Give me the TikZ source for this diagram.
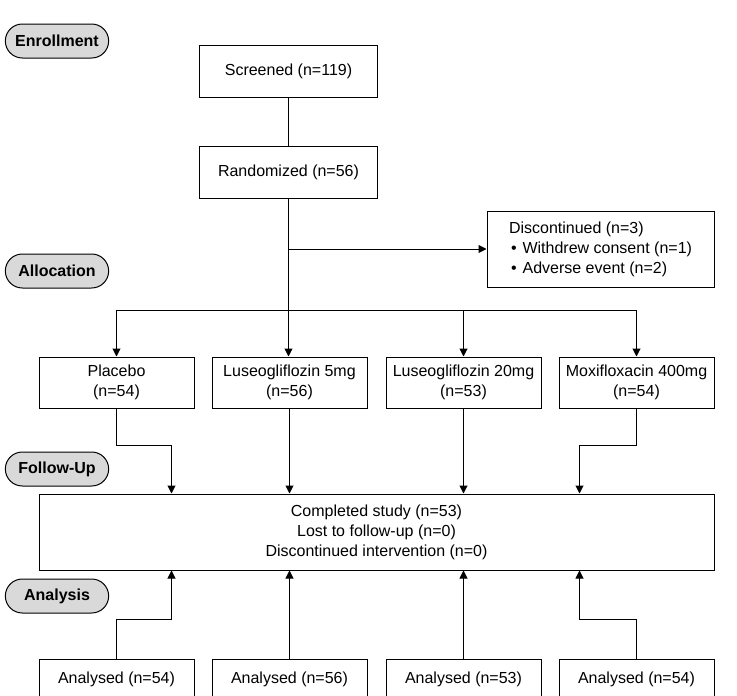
\documentclass[tikz,border=0pt]{standalone}
\usepackage{fontspec}
\setmainfont{Liberation Sans}
\usetikzlibrary{arrows.meta,shapes.misc}
\begin{document}
\begin{tikzpicture}[
    x=1pt, y=-1pt,
    font=\fontsize{16}{20}\selectfont,
    stage/.style={rounded rectangle, draw, line width=1pt, fill=gray!30, minimum width=110, minimum height=34, font=\fontsize{16}{20}\selectfont\bfseries},
    box/.style={rectangle, draw, line width=1pt, minimum width=178, minimum height=52, text centered},
    arm/.style={rectangle, draw, line width=1pt, minimum width=155, minimum height=51, align=center},
    result/.style={rectangle, draw, line width=1pt, minimum width=155, minimum height=40},
    flow/.style={line width=1pt, -{Triangle[length=8pt, width=8pt]}}
]
\useasboundingbox (0,0) rectangle (737,696);

% Stages
\node[stage] (enroll) at (57,41) {Enrollment};
\node[stage] (alloc) at (57,271) {Allocation};
\node[stage] (follow) at (57,469) {Follow-Up};
\node[stage] (analysis) at (57,596) {Analysis};

% Enrollment
\node[box] (screened) at (288.5,71) {Screened (n=119)};
\node[box] (random) at (288.5,172) {Randomized (n=56)};
\node[rectangle, draw, line width=1pt, minimum width=227, minimum height=76, align=left] (discont) at (600.5,249)
  {Discontinued (n=3)\\\hspace{2pt}\textbullet\hspace{6pt}Withdrew consent (n=1)\\\hspace{2pt}\textbullet\hspace{6pt}Adverse event (n=2)};
\coordinate (split) at (288.5,310);

% Allocation
\node[arm] (placebo) at (116.5,382.5) {Placebo\\(n=54)};
\node[arm] (luso5) at (289.5,382.5) {Luseogliflozin 5mg\\(n=56)};
\node[arm] (luso20) at (463.5,382.5) {Luseogliflozin 20mg\\(n=53)};
\node[arm] (moxi) at (636.5,382.5) {Moxifloxacin 400mg\\(n=54)};

% Follow-up
\node[rectangle, draw, line width=1pt, minimum width=675, minimum height=76, align=center] (completed) at (376.5,532)
  {Completed study (n=53)\\Lost to follow-up (n=0)\\Discontinued intervention (n=0)};
\coordinate (inA) at ([xshift=133]completed.north west);
\coordinate (inD) at ([xshift=-135]completed.north east);
\coordinate (outA) at ([xshift=133]completed.south west);
\coordinate (outD) at ([xshift=-135]completed.south east);

% Analysis
\node[result] (anaplacebo) at (116.5,679) {Analysed (n=54)};
\node[result] (analuso5) at (289.5,679) {Analysed (n=56)};
\node[result] (analuso20) at (463.5,679) {Analysed (n=53)};
\node[result] (anamoxi) at (636.5,679) {Analysed (n=54)};

% Arrows
\draw[line width=1pt] (screened) -- (random);
\draw[line width=1pt] (random) -- (split);
\draw[flow] (random.south |- discont.west) -- (discont.west);
\draw[line width=1pt] (placebo.north |- split) -- (moxi.north |- split);
\draw[flow] (split) -- (split |- luso5.north);
\foreach \n in {placebo, luso20, moxi}
  \draw[flow] (\n.north |- split) -- (\n.north);

\draw[flow] (placebo.south) -- ++(0,37) -| (inA);
\draw[flow] (luso5.south) -- (luso5.south |- completed.north);
\draw[flow] (luso20.south) -- (luso20.south |- completed.north);
\draw[flow] (moxi.south) -- ++(0,37) -| (inD);

\draw[flow] (anaplacebo.north) -- ++(0,-39) -| (outA);
\draw[flow] (analuso5.north) -- (analuso5.north |- completed.south);
\draw[flow] (analuso20.north) -- (analuso20.north |- completed.south);
\draw[flow] (anamoxi.north) -- ++(0,-39) -| (outD);

\end{tikzpicture}
\end{document}
